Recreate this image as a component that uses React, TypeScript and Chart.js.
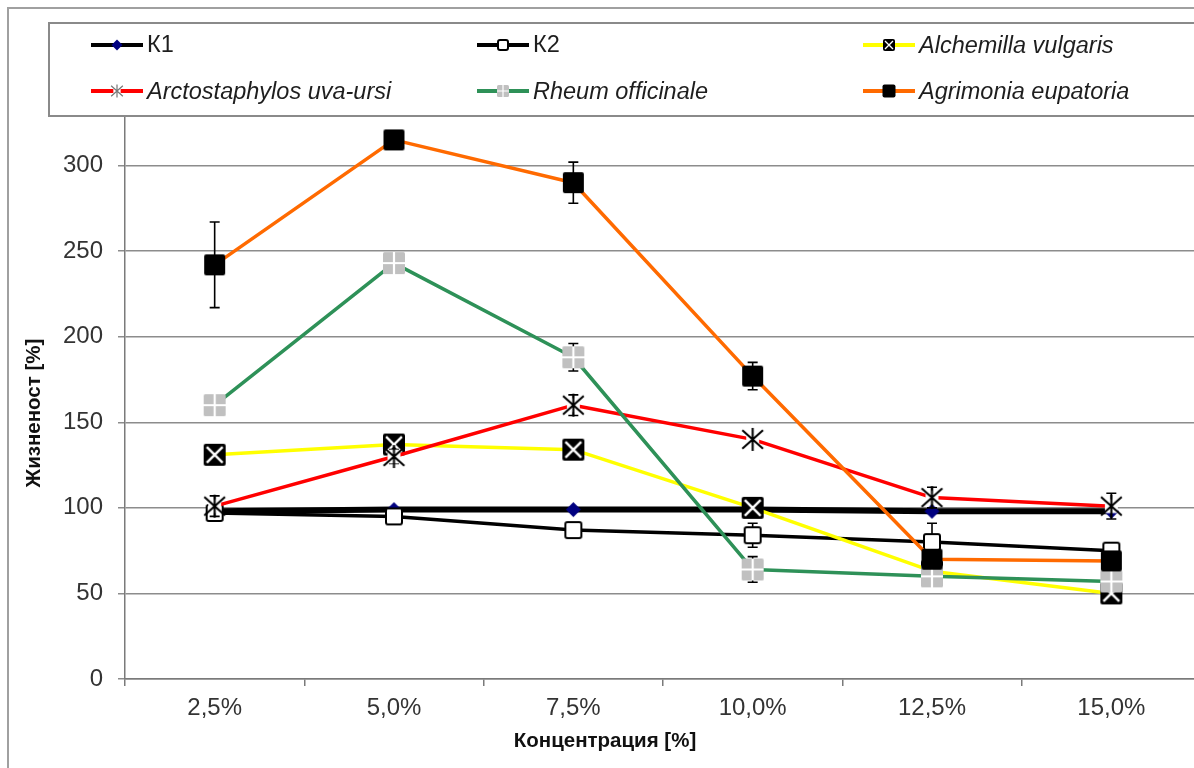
import React, { useEffect, useRef } from 'react';
import { Chart, registerables } from 'chart.js';

Chart.register(...registerables);

// Concentrations on the x axis
const categories = ['2,5%', '5,0%', '7,5%', '10,0%', '12,5%', '15,0%'];
const yTickValues = [0, 50, 100, 150, 200, 250, 300];

// Viability [%] per series, with the +/- error for each point
const k1 = [98, 99, 99, 99, 98, 98];
const k1Err = [0, 0, 0, 0, 0, 0];
const k2 = [97, 95, 87, 84, 80, 75];
const k2Err = [2, 2, 2, 7, 11, 3];
const alchemilla = [131, 137, 134, 100, 63, 50];
const alchemillaErr = [3, 3, 3, 3, 3, 3];
const arctostaphylos = [101, 130, 160, 140, 106, 101];
const arctostaphylosErr = [6, 4, 6, 3, 6, 7.5];
const rheum = [160, 243, 188, 64, 60, 57];
const rheumErr = [3, 3, 8, 7.5, 3, 3];
const agrimonia = [242, 315, 290, 177, 70, 69];
const agrimoniaErr = [25, 4, 12, 8, 3, 3];

const FONT = "'Liberation Sans', Arial, Helvetica, sans-serif";

type MarkerFn = (ctx: CanvasRenderingContext2D, s: number) => void;

// Marker painters, all centred on (0,0) with overall size s
const diamond: MarkerFn = (ctx, s) => {
  ctx.fillStyle = '#000080';
  ctx.beginPath();
  ctx.moveTo(0, -s / 2);
  ctx.lineTo(s / 2, 0);
  ctx.lineTo(0, s / 2);
  ctx.lineTo(-s / 2, 0);
  ctx.closePath();
  ctx.fill();
};

const hollowSquare: MarkerFn = (ctx, s) => {
  ctx.fillStyle = '#ffffff';
  ctx.strokeStyle = '#000000';
  ctx.lineWidth = 2;
  ctx.beginPath();
  ctx.roundRect(-s / 2 + 1, -s / 2 + 1, s - 2, s - 2, 2);
  ctx.fill();
  ctx.stroke();
};

const xSquare: MarkerFn = (ctx, s) => {
  ctx.fillStyle = '#000000';
  ctx.beginPath();
  ctx.roundRect(-s / 2, -s / 2, s, s, 2);
  ctx.fill();
  const d = s / 2 - Math.max(2, s * 0.14);
  ctx.strokeStyle = '#ffffff';
  ctx.lineWidth = Math.max(1.2, s * 0.11);
  ctx.beginPath();
  ctx.moveTo(-d, -d);
  ctx.lineTo(d, d);
  ctx.moveTo(d, -d);
  ctx.lineTo(-d, d);
  ctx.stroke();
};

const crossSquare: MarkerFn = (ctx, s) => {
  ctx.fillStyle = '#c0c0c0';
  ctx.beginPath();
  ctx.roundRect(-s / 2, -s / 2, s, s, 1.5);
  ctx.fill();
  ctx.strokeStyle = '#ffffff';
  ctx.lineWidth = Math.max(1.2, s * 0.1);
  ctx.beginPath();
  ctx.moveTo(0, -s / 2);
  ctx.lineTo(0, s / 2);
  ctx.moveTo(-s / 2, 0);
  ctx.lineTo(s / 2, 0);
  ctx.stroke();
};

const makeAsterisk = (color: string): MarkerFn => (ctx, s) => {
  ctx.fillStyle = '#ffffff';
  ctx.fillRect(-s * 0.28, -s * 0.3, s * 0.56, s * 0.6);
  ctx.strokeStyle = color;
  ctx.lineWidth = Math.max(1.2, s * 0.09);
  ctx.beginPath();
  ctx.moveTo(0, -s / 2);
  ctx.lineTo(0, s / 2);
  ctx.moveTo(-s * 0.45, -s * 0.4);
  ctx.lineTo(s * 0.45, s * 0.4);
  ctx.moveTo(s * 0.45, -s * 0.4);
  ctx.lineTo(-s * 0.45, s * 0.4);
  ctx.stroke();
};

const solidSquare: MarkerFn = (ctx, s) => {
  ctx.fillStyle = '#000000';
  ctx.beginPath();
  ctx.roundRect(-s / 2, -s / 2, s, s, 2);
  ctx.fill();
};

function markerImage(fn: MarkerFn, s: number): HTMLCanvasElement {
  const c = document.createElement('canvas');
  const size = Math.ceil(s + 4);
  c.width = size;
  c.height = size;
  const ctx = c.getContext('2d')!;
  ctx.translate(size / 2, size / 2);
  fn(ctx, s);
  return c;
}

interface SeriesDef {
  label: string;
  data: number[];
  errors: number[];
  color: string;
  width: number;
  marker: MarkerFn;
  markerSize: number;
  legendMarker: MarkerFn;
  legendSize: number;
  legendWidth: number;
  italic: boolean;
}

const series: SeriesDef[] = [
  { label: 'К1', data: k1, errors: k1Err, color: '#000000', width: 6, marker: diamond, markerSize: 15, legendMarker: diamond, legendSize: 11, legendWidth: 4, italic: false },
  { label: 'К2', data: k2, errors: k2Err, color: '#000000', width: 3.5, marker: hollowSquare, markerSize: 18, legendMarker: hollowSquare, legendSize: 12, legendWidth: 4, italic: false },
  { label: 'Alchemilla vulgaris', data: alchemilla, errors: alchemillaErr, color: '#ffff00', width: 3.5, marker: xSquare, markerSize: 22, legendMarker: xSquare, legendSize: 12, legendWidth: 4, italic: true },
  { label: 'Arctostaphylos uva-ursi', data: arctostaphylos, errors: arctostaphylosErr, color: '#ff0000', width: 3.5, marker: makeAsterisk('#000000'), markerSize: 23, legendMarker: makeAsterisk('#777777'), legendSize: 13, legendWidth: 4, italic: true },
  { label: 'Rheum officinale', data: rheum, errors: rheumErr, color: '#2e9158', width: 3.5, marker: crossSquare, markerSize: 22, legendMarker: crossSquare, legendSize: 12, legendWidth: 4, italic: true },
  { label: 'Agrimonia eupatoria', data: agrimonia, errors: agrimoniaErr, color: '#ff6a00', width: 3.5, marker: solidSquare, markerSize: 21, legendMarker: solidSquare, legendSize: 13, legendWidth: 4, italic: true },
];

// Error bars are painted just before each series, so its own markers sit on top
const errorBars = {
  id: 'errorBars',
  beforeDatasetDraw(chart: any, args: any) {
    const s = series[args.index];
    if (!s) return;
    const y = chart.scales.y;
    const ctx = chart.ctx;
    ctx.save();
    ctx.strokeStyle = '#000000';
    ctx.lineWidth = 1.6;
    args.meta.data.forEach((pt: any, i: number) => {
      const e = s.errors[i];
      if (!e) return;
      const top = y.getPixelForValue(s.data[i] + e);
      const bot = y.getPixelForValue(s.data[i] - e);
      ctx.beginPath();
      ctx.moveTo(pt.x, top);
      ctx.lineTo(pt.x, bot);
      ctx.moveTo(pt.x - 5, top);
      ctx.lineTo(pt.x + 5, top);
      ctx.moveTo(pt.x - 5, bot);
      ctx.lineTo(pt.x + 5, bot);
      ctx.stroke();
    });
    ctx.restore();
  },
};

// Frame, axis titles and the boxed legend laid over the top of the plot
const decorations = {
  id: 'decorations',
  beforeDraw(chart: any) {
    const ctx = chart.ctx;
    ctx.save();
    ctx.fillStyle = '#ffffff';
    ctx.fillRect(0, 0, chart.width, chart.height);
    ctx.restore();
  },
  afterDraw(chart: any) {
    const ctx = chart.ctx;
    ctx.save();
    // outer frame
    ctx.strokeStyle = '#a0a0a0';
    ctx.lineWidth = 2;
    ctx.strokeRect(8, 8, chart.width + 20, chart.height + 20);

    // axis titles
    ctx.fillStyle = '#111111';
    ctx.font = `bold 20.5px ${FONT}`;
    ctx.textAlign = 'center';
    ctx.textBaseline = 'middle';
    ctx.fillText('Концентрация [%]', 605, 741);
    ctx.save();
    ctx.translate(34, 413);
    ctx.rotate(-Math.PI / 2);
    ctx.fillText('Жизненост [%]', 0, 0);
    ctx.restore();

    // legend box
    ctx.fillStyle = '#ffffff';
    ctx.fillRect(49, 23, chart.width, 93);
    ctx.strokeStyle = '#8a8a8a';
    ctx.lineWidth = 2;
    ctx.strokeRect(49, 23, chart.width, 93);

    const cols = [91, 477, 863];
    const rows = [45, 91];
    series.forEach((s, i) => {
      const x0 = cols[i % 3];
      const y0 = rows[Math.floor(i / 3)];
      ctx.strokeStyle = s.color;
      ctx.lineWidth = s.legendWidth;
      ctx.beginPath();
      ctx.moveTo(x0, y0);
      ctx.lineTo(x0 + 52, y0);
      ctx.stroke();
      ctx.save();
      ctx.translate(x0 + 26, y0);
      s.legendMarker(ctx, s.legendSize);
      ctx.restore();
      ctx.fillStyle = '#1e1e1e';
      ctx.font = `${s.italic ? 'italic ' : ''}23.5px ${FONT}`;
      ctx.textAlign = 'left';
      ctx.textBaseline = 'middle';
      ctx.fillText(s.label, x0 + 56, y0 + 1);
    });
    ctx.restore();
  },
};

export default function App() {
  const ref = useRef<HTMLCanvasElement>(null);

  useEffect(() => {
    const canvas = ref.current;
    if (!canvas) return;
    const datasets = series.map((s, i) => {
      const img = markerImage(s.marker, s.markerSize);
      return {
        label: s.label,
        data: s.data,
        borderColor: s.color,
        backgroundColor: s.color,
        borderWidth: s.width,
        borderJoinStyle: 'round' as const,
        tension: 0,
        pointStyle: img,
        pointRadius: s.markerSize / 2,
        pointHoverRadius: s.markerSize / 2,
        order: series.length - i,
      };
    });

    const chart = new Chart(canvas, {
      type: 'line',
      data: { labels: categories, datasets },
      plugins: [errorBars, decorations],
      options: {
        responsive: false,
        animation: false,
        devicePixelRatio: 1,
        layout: { padding: { top: 80, right: 8, bottom: 0, left: 0 } },
        plugins: {
          legend: { display: false },
          title: { display: false },
          tooltip: { enabled: false },
        },
        scales: {
          x: {
            type: 'category',
            offset: true,
            grid: {
              offset: true,
              drawOnChartArea: false,
              drawTicks: true,
              tickLength: 7,
              color: '#7a7a7a',
              lineWidth: 1.5,
            },
            border: { display: true, color: '#7a7a7a', width: 1.5 },
            ticks: {
              font: { family: FONT, size: 24 },
              color: '#333333',
              padding: 8,
              maxRotation: 0,
              autoSkip: false,
            },
            afterFit: (scale: any) => {
              scale.height = 89;
            },
          },
          y: {
            min: 0,
            max: 350,
            afterBuildTicks: (scale: any) => {
              scale.ticks = yTickValues.map((v) => ({ value: v }));
            },
            grid: {
              color: '#8c8c8c',
              lineWidth: 1.5,
              tickLength: 7,
            },
            border: { display: true, color: '#7a7a7a', width: 1.5 },
            ticks: {
              font: { family: FONT, size: 24 },
              color: '#333333',
              padding: 15,
            },
            afterFit: (scale: any) => {
              scale.width = 125;
            },
          },
        },
      },
    } as any);

    return () => chart.destroy();
  }, []);

  return (
    <div
      style={{
        position: 'fixed',
        left: 0,
        top: 0,
        width: 1194,
        height: 768,
        overflow: 'hidden',
        background: '#ffffff',
      }}
    >
      <canvas ref={ref} width={1216} height={768} style={{ display: 'block' }} />
    </div>
  );
}
